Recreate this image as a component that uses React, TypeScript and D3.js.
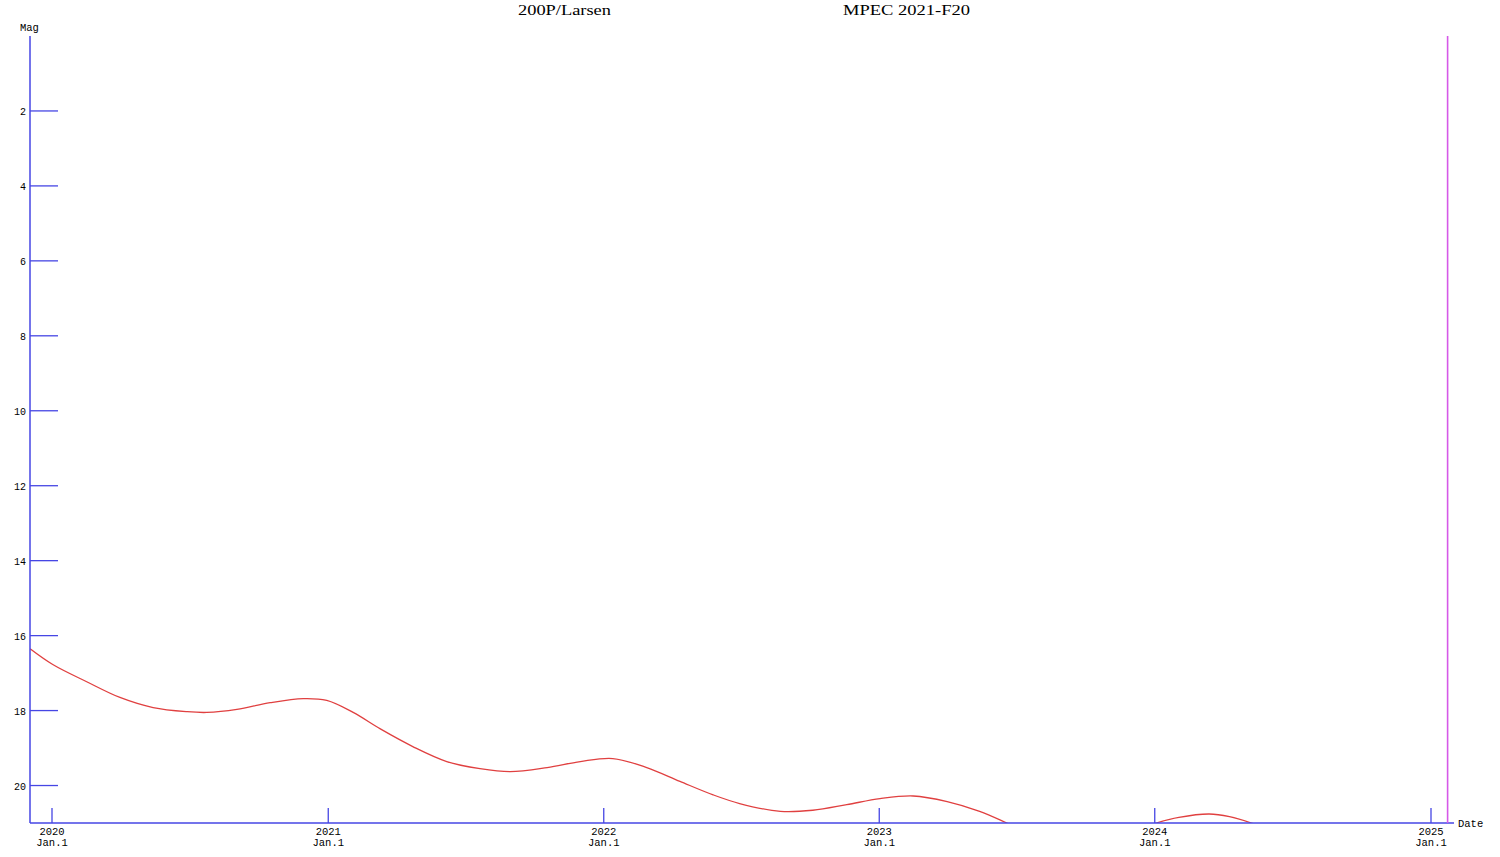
import React from "react";
import * as d3 from "d3";

const titleObject = "200P/Larsen";
const titleSource = "MPEC 2021-F20";

const magDates = [
  "2019-12-03", "2020-01-02", "2020-02-16", "2020-03-31", "2020-05-14", "2020-06-28",
  "2020-07-24", "2020-09-02", "2020-10-16", "2020-11-29", "2020-12-30", "2021-02-03",
  "2021-03-11", "2021-04-23", "2021-06-07", "2021-07-21", "2021-08-30", "2021-10-18",
  "2021-12-01", "2022-01-13", "2022-02-27", "2022-04-12", "2022-05-26", "2022-06-30",
  "2022-08-23", "2022-10-05", "2022-11-19", "2023-01-02", "2023-02-15", "2023-04-01",
  "2023-05-14", "2023-06-19", "2023-08-01", "2023-09-15", "2023-11-01", "2023-12-05",
  "2024-01-03", "2024-02-02", "2024-03-13", "2024-04-09", "2024-05-08", "2024-06-15",
  "2024-08-01", "2024-10-01", "2024-12-01", "2025-01-23",
];
const magValues = [
  16.35, 16.77, 17.23, 17.65, 17.92, 18.03,
  18.05, 17.97, 17.79, 17.68, 17.73, 18.05,
  18.49, 18.96, 19.36, 19.55, 19.63, 19.52,
  19.36, 19.28, 19.52, 19.89, 20.25, 20.48,
  20.69, 20.66, 20.51, 20.35, 20.28, 20.43,
  20.69, 21.0, 21.4, 21.6, 21.5, 21.2,
  21.0, 20.85, 20.76, 20.83, 21.0, 21.3,
  21.8, 22.3, 22.6, 22.7,
];

const yTicks = [2, 4, 6, 8, 10, 12, 14, 16, 18, 20];
const xTickYears = [2020, 2021, 2022, 2023, 2024, 2025];
const xTickSub = "Jan.1";
const todayDate = "2025-01-23";
const yLabel = "Mag";
const xLabel = "Date";

const W = 1500;
const H = 857;
const BLUE = "#4646e4";
const RED = "#e04040";
const MAGENTA = "#d659e8";
const MONO = "'Liberation Mono', 'DejaVu Sans Mono', monospace";

export default function App() {
  const parse = d3.utcParse("%Y-%m-%d");
  const x = d3
    .scaleUtc()
    .domain([Date.UTC(2020, 0, 1), Date.UTC(2025, 0, 1)])
    .range([52, 1431]);
  const y = d3.scaleLinear().domain([0, 21]).range([36, 823]);

  const data = magDates.map((d, i) => ({ date: parse(d) as Date, mag: magValues[i] }));
  const line = d3
    .line<{ date: Date; mag: number }>()
    .x((d) => x(d.date))
    .y((d) => y(d.mag))
    .curve(d3.curveCatmullRom.alpha(0.5));

  const x0 = 30;
  const xEnd = 1454;
  const yTop = y(0);
  const yBot = y(21);
  const todayX = x(parse(todayDate) as Date);

  return (
    <div style={{ position: "absolute", left: 0, top: 0 }}>
      <svg width={W} height={H} style={{ display: "block", background: "#fff" }}>
        <defs>
          <clipPath id="plotClip">
            <rect x={x0} y={yTop} width={xEnd - x0} height={yBot - yTop} />
          </clipPath>
        </defs>
        <text x={564.5} y={15} textAnchor="middle" fontFamily="'Liberation Serif', serif" fontSize={15.5} textLength={93} lengthAdjust="spacingAndGlyphs">
          {titleObject}
        </text>
        <text x={906.5} y={15} textAnchor="middle" fontFamily="'Liberation Serif', serif" fontSize={15.5} textLength={127} lengthAdjust="spacingAndGlyphs">
          {titleSource}
        </text>

        <path d={line(data) || ""} fill="none" stroke={RED} strokeWidth={1.3} clipPath="url(#plotClip)" />

        <line x1={x0} x2={x0} y1={yTop} y2={yBot} stroke={BLUE} strokeWidth={1.5} />
        <line x1={x0} x2={xEnd} y1={yBot} y2={yBot} stroke={BLUE} strokeWidth={1.5} />

        {yTicks.map((t) => (
          <g key={"y" + t}>
            <line x1={x0} x2={58} y1={y(t)} y2={y(t)} stroke={BLUE} strokeWidth={1.3} />
            <text x={26} y={y(t) + 4} textAnchor="end" fontFamily={MONO} fontSize={10}>
              {t}
            </text>
          </g>
        ))}

        {xTickYears.map((yr) => {
          const xx = x(Date.UTC(yr, 0, 1));
          return (
            <g key={"x" + yr}>
              <line x1={xx} x2={xx} y1={yBot - 15} y2={yBot} stroke={BLUE} strokeWidth={1.3} />
              <text x={xx} y={835} textAnchor="middle" fontFamily={MONO} fontSize={10.5}>
                {yr}
              </text>
              <text x={xx} y={846} textAnchor="middle" fontFamily={MONO} fontSize={10.5}>
                {xTickSub}
              </text>
            </g>
          );
        })}

        <line x1={todayX} x2={todayX} y1={yTop} y2={yBot} stroke={MAGENTA} strokeWidth={1.6} />

        <text x={20} y={31} fontFamily={MONO} fontSize={10.5}>
          {yLabel}
        </text>
        <text x={1458} y={827} fontFamily={MONO} fontSize={10.5}>
          {xLabel}
        </text>
      </svg>
    </div>
  );
}
